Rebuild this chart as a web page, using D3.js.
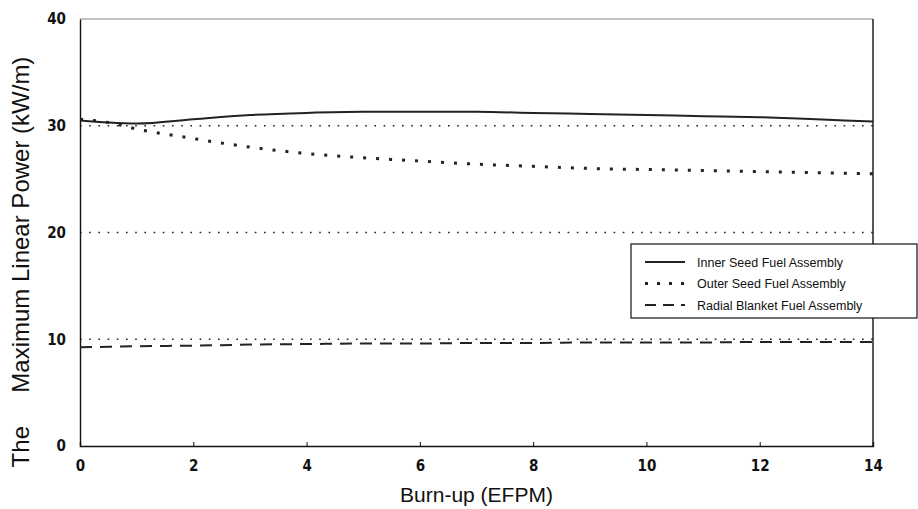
<!DOCTYPE html>
<html>
<head>
<meta charset="utf-8">
<script src="https://cdn.jsdelivr.net/npm/d3@7"></script>
<style>
  body { margin: 0; background: #fff; }
  svg { display: block; }
  .tick-lbl { font-family: "Liberation Sans Narrow", "Arial Narrow", "DejaVu Sans Condensed", sans-serif; font-size: 15px; font-weight: bold; fill: #111; }
  .title { font-family: "Liberation Sans", Arial, sans-serif; fill: #111; }
  .leg { font-family: "Liberation Sans", Arial, sans-serif; font-size: 12.5px; fill: #111; }
</style>
</head>
<body>
<div id="chart"></div>
<script>
// burn-up points (EFPM)
var burnup = [0, 0.5, 1, 2, 3, 4, 5, 6, 7, 8, 9, 10, 11, 12, 13, 14];
var innerSeed = [30.5, 30.3, 30.2, 30.6, 31.0, 31.2, 31.3, 31.3, 31.3, 31.2, 31.1, 31.0, 30.9, 30.8, 30.6, 30.4];
var outerSeed = [30.6, 30.3, 29.7, 28.8, 28.0, 27.4, 27.0, 26.7, 26.4, 26.2, 26.0, 25.9, 25.8, 25.7, 25.6, 25.5];
var radialBlanket = [9.25, 9.3, 9.35, 9.4, 9.5, 9.55, 9.6, 9.6, 9.65, 9.65, 9.7, 9.7, 9.7, 9.75, 9.75, 9.75];
var seriesNames = ['Inner Seed Fuel Assembly', 'Outer Seed Fuel Assembly', 'Radial Blanket Fuel Assembly'];
var xTicks = [0, 2, 4, 6, 8, 10, 12, 14];
var yTicks = [0, 10, 20, 30, 40];
var gridVals = [10, 20, 30];

var width = 918, height = 509;
var margin = {left: 80, right: 45, top: 19, bottom: 63};
var w = width - margin.left - margin.right, h = height - margin.top - margin.bottom;

var svg = d3.select('#chart').append('svg').attr('width', width).attr('height', height);
var g = svg.append('g').attr('transform', 'translate(' + margin.left + ',' + margin.top + ')');

var xscale = d3.scaleLinear().domain([0, 14]).range([0, w]);
var yscale = d3.scaleLinear().domain([0, 40]).range([h, 0]);

// dotted grid lines
g.selectAll('.grid').data(gridVals).enter().append('line')
  .attr('x1', 0).attr('x2', w)
  .attr('y1', function(d){ return yscale(d); }).attr('y2', function(d){ return yscale(d); })
  .attr('stroke', '#222').attr('stroke-width', 1.6).attr('stroke-dasharray', '1.6,7.6');

// frame
g.append('line').attr('x1', 0).attr('x2', w).attr('y1', 0).attr('y2', 0).attr('stroke', '#888').attr('stroke-width', 1);
g.append('line').attr('x1', w).attr('x2', w).attr('y1', 0).attr('y2', h).attr('stroke', '#111').attr('stroke-width', 1.4);

var xaxis = d3.axisBottom(xscale).tickValues(xTicks).tickSize(-4).tickFormat(d3.format('d'));
var yaxis = d3.axisLeft(yscale).tickValues(yTicks).tickSize(0).tickPadding(14);

var gx = g.append('g').attr('transform', 'translate(0,' + h + ')').call(xaxis);
gx.attr('font-size', null).attr('font-family', null);
gx.select('.domain').attr('stroke', '#111').attr('stroke-width', 1.4);
gx.selectAll('.tick line').attr('stroke', '#111');
gx.selectAll('.tick text').attr('class', 'tick-lbl').attr('y', 14).attr('dy', '0.71em');

var gy = g.append('g').call(yaxis);
gy.attr('font-size', null).attr('font-family', null);
gy.select('.domain').attr('stroke', '#111').attr('stroke-width', 1.4);
gy.selectAll('.tick text').attr('class', 'tick-lbl');

var line = d3.line()
  .x(function(d){ return xscale(d[0]); })
  .y(function(d){ return yscale(d[1]); })
  .curve(d3.curveMonotoneX);

var series = [
  {name: seriesNames[0], values: innerSeed, dash: null, sw: 2, legDash: null},
  {name: seriesNames[1], values: outerSeed, dash: '3,10', sw: 3, legDash: '3,9'},
  {name: seriesNames[2], values: radialBlanket, dash: '12,8', sw: 2, legDash: '11,7'}
];

series.forEach(function(s){
  g.append('path')
    .datum(burnup.map(function(b, i){ return [b, s.values[i]]; }))
    .attr('d', line)
    .attr('fill', 'none')
    .attr('stroke', '#222')
    .attr('stroke-width', s.sw)
    .attr('stroke-dasharray', s.dash);
});

// axis titles
svg.append('text').attr('class', 'title')
  .attr('x', margin.left + w / 2).attr('y', 502)
  .attr('text-anchor', 'middle').attr('font-size', 21)
  .text('Burn-up (EFPM)');

svg.append('text').attr('class', 'title')
  .attr('transform', 'translate(29,262) rotate(-90)')
  .attr('text-anchor', 'middle').attr('font-size', 24)
  .attr('xml:space', 'preserve')
  .text('The     Maximum Linear Power (kW/m)');

// legend
var leg = svg.append('g').attr('transform', 'translate(631,244)');
leg.append('rect').attr('width', 286).attr('height', 74)
  .attr('fill', '#fff').attr('stroke', '#111').attr('stroke-width', 1.2);
series.forEach(function(s, i){
  var yy = 18 + i * 21.5;
  leg.append('line').attr('x1', 14).attr('x2', 54).attr('y1', yy).attr('y2', yy)
    .attr('stroke', '#222').attr('stroke-width', s.sw)
    .attr('stroke-dasharray', s.legDash);
  leg.append('text').attr('class', 'leg').attr('x', 66).attr('y', yy + 4.5).text(s.name);
});
</script>
</body>
</html>
